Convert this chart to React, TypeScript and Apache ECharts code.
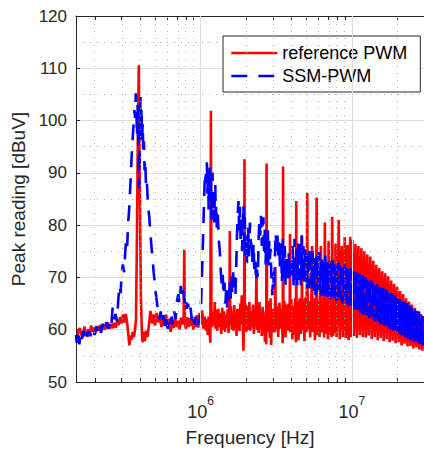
import React, { useEffect, useRef } from "react";
import * as echarts from "echarts";

type Pt = [number, number]; // [frequency in MHz, peak level in dBuV]

// ---------- axes ----------
const X_MIN_HZ = 1.5e5;
const X_MAX_HZ = 3e7;
const Y_MIN = 50;
const Y_MAX = 120;
const Y_STEP = 10;
const xLabelExponents = [6, 7];
const majorGridHz = [1e6, 1e7];
const minorGridHz = [2e5, 3e5, 4e5, 5e5, 6e5, 7e5, 8e5, 9e5, 2e6, 3e6, 4e6, 5e6, 6e6, 7e6, 8e6, 9e6, 2e7];
const seriesNames = ["reference PWM", "SSM-PWM"];

// ---------- reference PWM (red) ----------
const redLow: Pt[] = [
  [0.150, 57.8], [0.153, 58.6], [0.156, 59.9], [0.159, 60.3], [0.162, 59.4], [0.165, 58.5], [0.168, 59.5],
  [0.171, 60.6], [0.174, 59.2], [0.178, 58.7], [0.181, 60.1], [0.185, 59.5], [0.189, 60.8], [0.193, 59.6],
  [0.197, 60.4], [0.201, 59.3], [0.206, 60.7], [0.211, 59.8], [0.216, 60.9], [0.221, 60.1], [0.226, 61.1],
  [0.232, 60.0], [0.238, 60.8], [0.244, 61.4], [0.250, 60.2], [0.256, 61.0], [0.262, 60.3], [0.268, 61.3],
  [0.275, 60.4], [0.281, 61.7], [0.287, 60.9], [0.293, 62.4], [0.300, 61.2], [0.307, 62.9], [0.314, 61.4],
  [0.320, 63.0], [0.326, 61.6], [0.332, 59.4], [0.338, 57.0], [0.344, 58.9], [0.350, 58.1], [0.356, 59.6],
  [0.362, 58.6], [0.368, 59.9],
];
const redFundamental: Pt[] = [
  [0.374, 62.0], [0.380, 80.0], [0.384, 95.0], [0.3903, 110.6], [0.394, 97.0], [0.398, 82.0], [0.403, 66.0],
  [0.408, 60.5], [0.413, 57.6],
];
const redBelow1MHz: Pt[] = [
  [0.420, 59.6], [0.428, 57.8], [0.436, 59.8], [0.445, 58.6], [0.455, 60.8], [0.466, 63.6], [0.477, 61.2],
  [0.488, 62.9], [0.500, 60.8], [0.512, 63.2], [0.525, 61.4], [0.538, 62.7], [0.551, 60.5], [0.565, 62.4],
  [0.578, 61.0], [0.592, 62.9], [0.606, 60.4], [0.620, 62.1], [0.634, 59.6], [0.648, 61.8], [0.663, 60.3],
  [0.678, 62.5], [0.694, 60.5], [0.710, 61.7], [0.726, 60.1], [0.742, 62.3], [0.758, 61.0], [0.772, 62.0],
  [0.780, 75.3], [0.788, 61.2], [0.800, 60.2], [0.815, 62.4], [0.830, 60.5], [0.846, 62.2], [0.862, 60.7],
  [0.878, 62.6], [0.895, 60.0], [0.912, 61.9], [0.930, 60.5], [0.948, 62.8], [0.966, 60.4], [0.985, 63.2],
];
const redOneToThreeMHz: Pt[] = [
  [1.004, 61.0], [1.024, 63.7], [1.044, 60.2], [1.064, 62.5], [1.084, 59.8], [1.100, 62.0], [1.115, 59.0],
  [1.130, 62.5], [1.145, 60.0], [1.160, 57.5], [1.170, 101.9], [1.180, 62.0], [1.195, 60.5], [1.210, 63.5],
  [1.225, 61.0], [1.240, 65.3], [1.255, 60.2], [1.270, 63.8], [1.290, 59.8], [1.310, 64.0], [1.330, 60.5],
  [1.350, 63.2], [1.370, 59.2], [1.390, 64.2], [1.410, 60.0], [1.430, 63.5], [1.450, 59.6], [1.470, 62.8],
  [1.490, 60.4], [1.510, 64.0], [1.530, 59.4], [1.550, 62.5], [1.560, 78.9], [1.570, 61.0], [1.590, 64.5],
  [1.610, 60.0], [1.630, 63.2], [1.650, 59.8], [1.670, 64.7], [1.690, 60.3], [1.710, 63.0], [1.730, 58.8],
  [1.750, 64.0], [1.770, 60.2], [1.790, 63.8], [1.810, 59.7], [1.830, 65.0], [1.850, 61.0], [1.870, 66.6],
  [1.900, 62.0], [1.920, 56.0], [1.940, 63.0], [1.950, 92.6], [1.960, 62.0], [1.990, 65.0], [2.010, 59.6],
  [2.040, 64.5], [2.070, 60.0], [2.100, 65.3], [2.130, 59.8], [2.160, 63.5], [2.190, 60.5], [2.220, 64.8],
  [2.250, 59.2], [2.280, 63.0], [2.310, 60.8], [2.340, 71.0], [2.360, 60.0], [2.390, 64.2], [2.420, 59.4],
  [2.450, 65.3], [2.480, 60.2], [2.510, 63.6], [2.540, 58.8], [2.570, 64.4], [2.600, 59.6], [2.630, 62.8],
  [2.660, 57.7], [2.690, 63.5], [2.715, 57.2], [2.730, 91.8], [2.750, 61.0], [2.780, 65.5], [2.810, 59.5],
  [2.840, 64.8], [2.870, 58.4], [2.900, 66.0], [2.930, 57.1], [2.960, 64.0], [2.990, 59.4],
];
const redThreeToTenMHz: Pt[] = [
  [3.020, 60.5], [3.060, 64.0], [3.100, 59.5], [3.120, 72.0], [3.140, 60.0], [3.200, 64.5], [3.260, 58.6],
  [3.320, 65.2], [3.380, 60.2], [3.440, 64.0], [3.490, 57.4], [3.510, 91.2], [3.530, 60.5], [3.580, 65.5],
  [3.640, 58.5], [3.700, 64.8], [3.760, 59.8], [3.820, 65.0], [3.880, 60.0], [3.900, 78.3], [3.920, 59.5],
  [3.980, 65.8], [4.040, 58.2], [4.100, 64.5], [4.160, 59.0], [4.220, 66.0], [4.270, 57.6], [4.290, 84.6],
  [4.310, 59.8], [4.370, 65.5], [4.440, 58.0], [4.520, 66.0], [4.600, 59.2], [4.660, 62.0], [4.680, 78.0],
  [4.700, 60.0], [4.780, 65.8], [4.860, 57.8], [4.940, 66.2], [5.020, 59.5], [5.070, 86.2], [5.110, 60.0],
  [5.200, 65.5], [5.300, 58.5], [5.400, 64.8], [5.460, 76.0], [5.500, 59.5], [5.600, 66.0], [5.700, 58.0],
  [5.800, 63.0], [5.850, 85.3], [5.900, 59.0], [6.000, 65.5], [6.120, 58.6], [6.240, 76.0], [6.340, 59.5],
  [6.460, 66.0], [6.560, 58.5], [6.630, 80.5], [6.720, 59.2], [6.850, 65.8], [6.950, 58.2], [7.020, 77.0],
  [7.120, 59.0], [7.250, 66.0], [7.350, 58.6], [7.410, 81.6], [7.520, 58.8], [7.660, 65.5], [7.740, 59.4],
  [7.800, 76.5], [7.920, 58.6], [8.080, 65.8], [8.190, 81.0], [8.320, 58.2], [8.460, 66.0], [8.580, 76.0],
  [8.720, 58.6], [8.860, 65.5], [8.970, 77.7], [9.120, 58.4], [9.260, 66.2], [9.360, 76.2], [9.520, 58.0],
  [9.650, 65.0], [9.750, 77.8], [9.920, 58.6],
];
const redTenToThirtyMHz: Pt[] = [
  [10.09, 77.2], [10.32, 58.8], [10.56, 76.4], [10.80, 58.4], [11.05, 76.0], [11.30, 59.0], [11.56, 75.6],
  [11.82, 58.6], [12.09, 75.0], [12.37, 58.5], [12.65, 74.4], [12.94, 58.9], [13.24, 74.0], [13.54, 58.2],
  [13.85, 73.2], [14.17, 58.6], [14.50, 72.4], [14.83, 58.0], [15.17, 71.8], [15.52, 58.4], [15.87, 71.2],
  [16.24, 57.8], [16.61, 70.8], [16.99, 58.2], [17.38, 70.2], [17.78, 57.6], [18.19, 69.4], [18.60, 57.9],
  [19.03, 68.8], [19.47, 57.4], [19.91, 68.2], [20.37, 57.6], [20.84, 67.4], [21.31, 57.0], [21.80, 66.8],
  [22.30, 57.3], [22.81, 66.0], [23.34, 56.8], [23.87, 65.4], [24.42, 56.9], [24.98, 64.8], [25.55, 56.4],
  [26.14, 64.2], [26.74, 56.6], [27.35, 63.6], [27.98, 56.2], [28.62, 63.0], [29.28, 56.0], [29.95, 62.6],
];

// ---------- SSM-PWM (blue) ----------
const blueLow: Pt[] = [
  [0.150, 59.0], [0.152, 57.5], [0.155, 60.0], [0.158, 57.2], [0.161, 59.6], [0.164, 58.2], [0.168, 59.8],
  [0.172, 58.4], [0.176, 59.9], [0.180, 58.7], [0.184, 59.7], [0.189, 58.8], [0.194, 60.2], [0.199, 59.0],
  [0.204, 60.6], [0.209, 59.3], [0.214, 60.8], [0.220, 59.4], [0.226, 61.2], [0.232, 59.9], [0.238, 61.4],
  [0.244, 60.2], [0.250, 61.0], [0.256, 60.0], [0.262, 64.3], [0.268, 62.0], [0.274, 63.0], [0.280, 61.6],
];
const blueFirstHump: Pt[] = [
  [0.286, 66.0], [0.291, 68.5], [0.296, 67.0], [0.300, 70.5], [0.306, 72.5], [0.312, 71.0], [0.317, 74.5],
  [0.322, 77.5], [0.327, 76.0], [0.332, 80.5], [0.337, 83.0], [0.341, 86.0], [0.345, 89.0], [0.349, 92.5],
  [0.353, 95.0], [0.357, 97.5], [0.361, 99.5], [0.365, 102.0], [0.369, 100.5], [0.373, 105.2], [0.377, 101.0],
  [0.380, 97.0], [0.383, 103.0], [0.386, 98.5], [0.389, 93.0], [0.392, 87.0], [0.395, 92.0], [0.398, 100.5],
  [0.401, 104.5], [0.404, 98.0], [0.407, 102.5], [0.410, 96.0], [0.414, 99.5], [0.418, 93.5], [0.422, 96.0],
  [0.426, 90.5], [0.430, 92.5], [0.435, 88.0], [0.440, 89.0], [0.446, 85.5], [0.452, 83.0], [0.458, 81.5],
  [0.464, 79.0], [0.470, 77.0], [0.476, 75.0], [0.482, 73.5], [0.489, 71.0], [0.496, 69.5], [0.503, 67.5],
  [0.510, 66.0], [0.518, 64.5], [0.526, 63.0],
];
const blueBelow1MHz: Pt[] = [
  [0.533, 62.0], [0.545, 63.5], [0.556, 61.0], [0.568, 62.8], [0.580, 60.5], [0.592, 62.2], [0.605, 60.2],
  [0.618, 61.8], [0.630, 60.6], [0.643, 62.5], [0.656, 61.0], [0.670, 63.5], [0.684, 62.0], [0.698, 65.5],
  [0.712, 66.8], [0.726, 65.0], [0.740, 68.4], [0.754, 66.0], [0.768, 67.5], [0.782, 65.2], [0.796, 66.5],
  [0.810, 64.0], [0.826, 65.0], [0.842, 63.0], [0.858, 64.2], [0.875, 61.8], [0.892, 63.2], [0.910, 61.0],
  [0.928, 62.5], [0.946, 60.5], [0.965, 62.0], [0.985, 61.5],
];
const blueOneToFiveMHz: Pt[] = [
  [1.000, 63.8], [1.010, 66.0], [1.020, 70.5], [1.030, 74.0], [1.040, 78.5], [1.050, 83.0], [1.060, 87.0],
  [1.070, 90.0], [1.080, 88.0], [1.090, 91.5], [1.100, 92.0], [1.110, 86.0], [1.120, 90.5], [1.130, 83.0],
  [1.140, 89.0], [1.150, 91.0], [1.160, 84.5], [1.170, 88.5], [1.180, 81.0], [1.190, 87.5], [1.200, 90.0],
  [1.210, 82.5], [1.220, 86.0], [1.230, 80.5], [1.240, 85.0], [1.250, 88.0], [1.260, 81.5], [1.270, 84.0],
  [1.280, 79.5], [1.300, 82.0], [1.320, 77.0], [1.340, 75.0], [1.360, 71.0], [1.380, 68.5], [1.400, 70.5],
  [1.420, 66.5], [1.440, 69.0], [1.460, 65.0], [1.480, 68.5], [1.500, 64.2], [1.520, 67.5], [1.540, 65.0],
  [1.560, 69.0], [1.580, 66.0], [1.600, 70.5], [1.620, 67.0], [1.640, 71.0], [1.660, 68.0], [1.680, 70.0],
  [1.700, 66.8], [1.720, 72.0], [1.740, 78.0], [1.760, 82.0], [1.780, 84.6], [1.800, 79.0], [1.820, 83.5],
  [1.840, 76.5], [1.860, 82.0], [1.880, 75.0], [1.900, 80.5], [1.920, 84.0], [1.940, 77.0], [1.960, 81.5],
  [1.980, 73.5], [2.000, 78.0], [2.030, 72.3], [2.060, 79.5], [2.090, 74.0], [2.120, 80.5], [2.150, 75.5],
  [2.180, 77.4], [2.210, 72.0], [2.240, 76.5], [2.270, 71.0], [2.300, 73.0], [2.330, 69.1], [2.360, 71.5],
  [2.390, 70.0], [2.420, 77.5], [2.450, 81.2], [2.480, 78.0], [2.510, 81.8], [2.540, 76.0], [2.570, 80.5],
  [2.600, 81.5], [2.630, 74.5], [2.660, 79.5], [2.690, 72.5], [2.720, 78.0], [2.750, 73.0], [2.780, 79.0],
  [2.810, 72.3], [2.840, 77.0], [2.870, 73.5], [2.900, 75.5], [2.940, 70.0], [2.980, 66.6], [3.020, 71.0],
  [3.060, 67.5], [3.100, 74.0], [3.140, 78.6], [3.180, 74.5], [3.220, 78.0], [3.260, 74.2], [3.300, 77.0],
  [3.350, 72.0], [3.400, 76.5], [3.450, 69.0], [3.500, 77.4], [3.550, 70.0], [3.600, 76.0], [3.650, 68.5],
  [3.700, 74.5], [3.760, 69.0], [3.820, 74.8], [3.880, 69.8], [3.940, 73.0], [4.000, 70.5], [4.060, 76.0],
  [4.120, 68.5], [4.180, 77.4], [4.240, 69.0], [4.300, 75.5], [4.360, 68.5], [4.420, 76.5], [4.480, 69.5],
  [4.540, 77.0], [4.600, 68.5], [4.660, 78.0], [4.720, 69.5], [4.780, 76.0], [4.840, 68.8], [4.900, 75.5],
  [4.960, 69.2], [5.020, 74.5], [5.080, 68.0], [5.140, 75.0], [5.200, 67.9], [5.260, 75.8], [5.320, 68.5],
  [5.380, 74.5], [5.440, 67.5], [5.500, 75.0],
];
const blueFiveToThirtyMHz: Pt[] = [
  [5.63, 67.0], [5.69, 73.8], [5.76, 66.6], [5.82, 74.5], [5.89, 67.2], [5.95, 73.2], [6.02, 66.8], [6.09, 74.8],
  [6.16, 67.4], [6.23, 73.5], [6.30, 66.5], [6.37, 74.0], [6.45, 67.0], [6.52, 73.0], [6.60, 66.4], [6.67, 74.2],
  [6.75, 66.9], [6.82, 73.4], [6.90, 66.2], [6.98, 72.8], [7.06, 66.6], [7.14, 73.6], [7.22, 65.9], [7.30, 72.9],
  [7.39, 66.3], [7.47, 73.3], [7.56, 65.7], [7.64, 72.6], [7.73, 66.0], [7.82, 73.0], [7.91, 65.5], [8.00, 72.4],
  [8.09, 65.8], [8.18, 72.9], [8.27, 65.2], [8.37, 72.2], [8.46, 65.6], [8.56, 72.7], [8.66, 65.0], [8.76, 72.0],
  [8.86, 65.3], [8.96, 72.5], [9.06, 64.8], [9.16, 71.8], [9.27, 65.0], [9.37, 72.2], [9.48, 64.5], [9.59, 71.5],
  [9.70, 64.7], [9.81, 71.8], [9.92, 64.2], [10.03, 71.2], [10.15, 64.4], [10.26, 71.5], [10.38, 63.9], [10.50, 70.9],
  [10.62, 64.0], [10.74, 71.1], [10.86, 63.5], [10.98, 70.6], [11.11, 63.7], [11.24, 70.8], [11.37, 63.2], [11.50, 70.3],
  [11.63, 63.4], [11.76, 70.5], [11.89, 62.9], [12.03, 70.0], [12.17, 63.0], [12.31, 70.1], [12.45, 62.5], [12.59, 69.6],
  [12.73, 62.7], [12.88, 69.7], [13.02, 62.2], [13.17, 69.2], [13.32, 62.3], [13.47, 69.4], [13.63, 61.9], [13.78, 68.9],
  [13.94, 62.0], [14.10, 69.0], [14.26, 61.6], [14.42, 68.6], [14.59, 61.7], [14.75, 68.7], [14.92, 61.3], [15.09, 68.2],
  [15.26, 61.4], [15.43, 68.4], [15.61, 61.0], [15.79, 67.9], [15.97, 61.1], [16.15, 68.0], [16.34, 60.7], [16.52, 67.6],
  [16.71, 60.8], [16.90, 67.7], [17.10, 60.4], [17.29, 67.2], [17.49, 60.5], [17.69, 67.3], [17.89, 60.1], [18.09, 66.9],
  [18.30, 60.2], [18.51, 67.0], [18.72, 59.8], [18.93, 66.5], [19.15, 59.9], [19.37, 66.6], [19.59, 59.5], [19.81, 66.2],
  [20.04, 59.6], [20.27, 66.3], [20.50, 59.2], [20.73, 65.8], [20.97, 59.3], [21.21, 65.9], [21.45, 58.9], [21.69, 65.4],
  [21.94, 59.0], [22.19, 65.5], [22.44, 58.6], [22.70, 65.0], [22.96, 58.7], [23.22, 65.1], [23.48, 58.3], [23.75, 64.6],
  [24.02, 58.4], [24.29, 64.7], [24.57, 58.0], [24.85, 64.2], [25.14, 58.1], [25.42, 64.3], [25.71, 57.7], [26.00, 63.8],
  [26.30, 57.8], [26.60, 63.9], [26.90, 57.4], [27.21, 63.4], [27.52, 57.5], [27.83, 63.5], [28.15, 57.1], [28.47, 63.0],
  [28.80, 57.2], [29.13, 62.8], [29.46, 57.0], [29.80, 62.4],
];

// ---------- helpers ----------
const FONT = "'Liberation Sans', Arial, Helvetica, sans-serif";
const INK = "#262626";
const lg = (hz: number) => Math.log10(hz);
const toXY = (pts: Pt[]) => pts.map(([mhz, db]) => [Math.log10(mhz * 1e6), db]);

const redData = toXY([...redLow, ...redFundamental, ...redBelow1MHz, ...redOneToThreeMHz, ...redThreeToTenMHz, ...redTenToThirtyMHz]);
const blueData = toXY([...blueLow, ...blueFirstHump, ...blueBelow1MHz, ...blueOneToFiveMHz, ...blueFiveToThirtyMHz]);

const tickPositions = [...majorGridHz, ...minorGridHz].map(lg);

export default function App() {
  const ref = useRef<HTMLDivElement>(null);
  useEffect(() => {
    if (!ref.current) return;
    const chart = echarts.init(ref.current, null, { renderer: "svg" });
    const xCommon = {
      type: "value" as const,
      min: lg(X_MIN_HZ),
      max: lg(X_MAX_HZ),
      splitLine: { show: false },
      axisLine: { show: true, onZero: false, lineStyle: { color: INK, width: 1 } },
      axisTick: { show: true, inside: true, length: 4, customValues: tickPositions, lineStyle: { color: INK, width: 1 } },
    };
    const gridLines = [
      ...majorGridHz.map((hz) => ({ xAxis: lg(hz), lineStyle: { color: "#dcdcdc", width: 1, type: "solid" } })),
      ...minorGridHz.map((hz) => ({ xAxis: lg(hz), lineStyle: { color: "#b0b0b0", width: 1, type: [1, 6] } })),
    ];
    chart.setOption({
      animation: false,
      backgroundColor: "#ffffff",
      textStyle: { fontFamily: FONT },
      grid: { left: 76, top: 16, right: -3, bottom: 68 },
      legend: {
        data: seriesNames,
        orient: "vertical",
        left: 223,
        top: 36,
        padding: [8, 13, 7, 7],
        itemGap: 5,
        itemWidth: 46,
        itemHeight: 14,
        backgroundColor: "#ffffff",
        borderColor: INK,
        borderWidth: 1,
        selectedMode: false,
        itemStyle: { opacity: 0 },
        lineStyle: { width: 2.6 },
        textStyle: { fontSize: 18, color: "#000", fontFamily: FONT },
      },
      xAxis: [
        {
          ...xCommon,
          position: "bottom",
          name: "Frequency [Hz]",
          nameLocation: "middle",
          nameGap: 46,
          nameTextStyle: { fontSize: 19, color: INK, fontFamily: FONT },
          axisLabel: {
            customValues: xLabelExponents,
            margin: 13,
            color: INK,
            formatter: (v: number) => `{b|10}{s|${Math.round(v)}}`,
            rich: {
              b: { fontSize: 18, lineHeight: 26, verticalAlign: "bottom", color: INK, fontFamily: FONT },
              s: { fontSize: 12, lineHeight: 12, verticalAlign: "top", color: INK, fontFamily: FONT },
            },
          },
        },
        { ...xCommon, position: "top", axisLabel: { show: false } },
      ],
      yAxis: {
        type: "value",
        min: Y_MIN,
        max: Y_MAX,
        interval: Y_STEP,
        name: "Peak reading [dBuV]",
        nameLocation: "middle",
        nameGap: 47,
        nameTextStyle: { fontSize: 19, color: INK, fontFamily: FONT },
        axisLine: { show: true, onZero: false, lineStyle: { color: INK, width: 1 } },
        axisTick: { show: true, inside: true, length: 4, lineStyle: { color: INK } },
        axisLabel: { fontSize: 17, color: INK, margin: 9, fontFamily: FONT },
        splitLine: { show: true, lineStyle: { color: "#dcdcdc", width: 1 } },
        minorTick: { show: false, splitNumber: 2 },
        minorSplitLine: { show: true, lineStyle: { color: "#b0b0b0", width: 1, type: [1, 6] } },
      },
      series: [
        {
          name: "xgrid",
          type: "line",
          data: [],
          z: 1,
          silent: true,
          markLine: { silent: true, symbol: ["none", "none"], label: { show: false }, animation: false, data: gridLines },
        },
        {
          name: seriesNames[0],
          type: "line",
          data: redData,
          symbol: "none",
          showSymbol: false,
          silent: true,
          z: 3,
          itemStyle: { color: "#ff0000" },
          lineStyle: { color: "#ff0000", width: 2.6 },
        },
        {
          name: seriesNames[1],
          type: "line",
          data: blueData,
          symbol: "none",
          showSymbol: false,
          silent: true,
          z: 4,
          itemStyle: { color: "#0000ff" },
          lineStyle: { color: "#0000ff", width: 2.6, type: [16, 11] },
        },
      ],
    });
    return () => chart.dispose();
  }, []);
  return <div ref={ref} style={{ position: "fixed", left: 0, top: 0, width: 424, height: 452 }} />;
}
